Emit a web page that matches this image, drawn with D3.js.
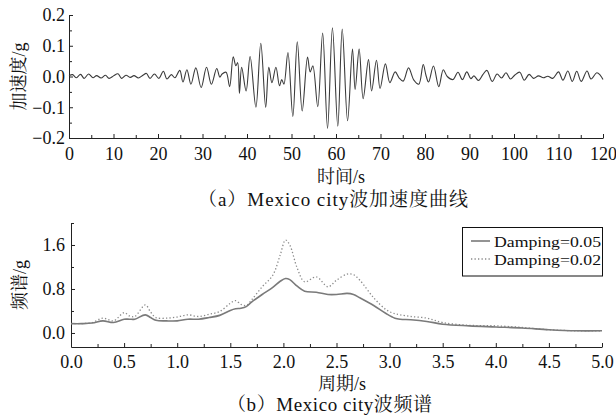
<!DOCTYPE html>
<html><head><meta charset="utf-8">
<script src="https://cdn.jsdelivr.net/npm/d3@7/dist/d3.min.js"></script>
<style>
body{margin:0;background:#fff;}
svg{display:block;font-family:"Liberation Serif","Times New Roman","Noto Serif CJK SC","Noto Sans CJK SC",serif;}
</style></head>
<body><svg id="c" width="616" height="418"></svg>
<script>
// ---------- Data: (a) acceleration time history ----------
const timeS = [0,0.8,1.6,2.6,3.4,4.4,5.4,6.2,7.2,8.2,9.0,10.0,11.0,11.8,12.8,13.8,14.6,15.6,16.6,17.4,18.2,19.2,20.2,21.2,22.0,23.0,23.8,24.9,25.6,26.5,27.4,28.5,29.7,30.9,32.0,33.2,33.9,34.4,35.3,36.1,36.9,37.5,37.9,38.3,38.8,39.8,40.7,42.0,43.1,44.2,44.9,45.6,46.5,47.3,47.8,48.3,49.2,50.3,51.3,52.4,53.6,54.2,54.8,55.9,57.0,58.1,59.2,60.4,61.4,62.6,63.7,64.3,65.2,66.1,67.3,68.0,69.1,69.9,71.1,72.1,73.3,74.2,75.1,76.3,77.5,78.6,79.6,80.2,80.8,81.9,83.1,84.1,85.0,86.3,87.4,88.4,89.4,90.3,91.0,92.0,93.0,93.9,95.1,96.2,97.2,98.2,99.2,100.2,101.3,102.3,103.4,104.4,105.5,106.6,107.6,108.7,110.0,111.0,112.1,113.1,114.1,115.1,116.4,117.3,118.6,119.4,120.0];
const accelG = [0.002,0.006,-0.004,0.007,-0.006,0.008,-0.004,0.003,-0.005,0.004,-0.006,0.002,0.009,-0.006,0.004,-0.003,0.003,-0.005,0.004,0.010,-0.006,0.008,-0.006,0.017,-0.008,0.006,-0.004,0.020,-0.018,0.022,-0.025,0.028,-0.036,0.030,-0.025,0.026,-0.002,0.008,0.014,-0.033,0.064,0.035,0.045,-0.055,0.030,-0.047,0.065,-0.100,0.108,-0.100,0.030,-0.020,0.030,-0.030,-0.010,-0.025,0.078,-0.130,0.113,-0.112,0.063,0.015,0.035,-0.098,0.141,-0.169,0.158,-0.162,0.154,-0.144,0.089,-0.042,0.089,-0.072,0.055,-0.047,0.053,-0.039,0.041,-0.020,0.015,-0.005,-0.015,0.028,-0.012,-0.025,0.039,0.005,-0.018,0.034,-0.033,0.022,0.000,-0.010,0.014,-0.010,0.015,-0.007,0.002,-0.013,0.006,0.020,-0.016,0.008,-0.005,0.012,-0.008,0.005,0.014,-0.012,0.007,-0.006,0.002,-0.004,0.001,-0.006,0.015,-0.012,0.018,-0.016,0.017,-0.016,0.018,-0.008,0.012,0.004,-0.010];
const accTicksX = [0,10,20,30,40,50,60,70,80,90,100,110,120];
const accTicksY = [-0.2,-0.1,0.0,0.1,0.2];

// ---------- Data: (b) spectrum ----------
const periodS = [0,0.1,0.2,0.3,0.4,0.5,0.55,0.6,0.7,0.75,0.8,0.9,1.0,1.1,1.2,1.3,1.4,1.5,1.55,1.6,1.65,1.7,1.8,1.9,1.97,2.02,2.06,2.13,2.2,2.31,2.42,2.5,2.6,2.66,2.72,2.85,2.97,3.05,3.1,3.2,3.35,3.5,3.75,4.0,4.25,4.5,4.75,5.0];
const damping005 = [0.17,0.17,0.18,0.22,0.19,0.25,0.25,0.25,0.33,0.28,0.23,0.22,0.22,0.25,0.25,0.28,0.32,0.41,0.44,0.45,0.48,0.56,0.70,0.83,0.94,0.99,0.97,0.85,0.76,0.74,0.70,0.70,0.72,0.70,0.64,0.50,0.35,0.27,0.25,0.24,0.21,0.16,0.13,0.11,0.09,0.06,0.04,0.04];
const damping002 = [0.17,0.17,0.19,0.27,0.22,0.37,0.31,0.30,0.51,0.38,0.28,0.27,0.29,0.33,0.30,0.34,0.39,0.54,0.59,0.52,0.50,0.60,0.84,1.05,1.42,1.69,1.60,1.18,0.93,1.02,0.84,0.96,1.07,1.06,0.96,0.64,0.42,0.35,0.33,0.30,0.27,0.19,0.14,0.13,0.10,0.06,0.04,0.04];
const specTicksX = [0,0.5,1.0,1.5,2.0,2.5,3.0,3.5,4.0,4.5,5.0];
const specTicksY = [0.0,0.8,1.6];
const seriesNames = ["Damping=0.05","Damping=0.02"];

const svg = d3.select("#c");
const axisColor = "#222";

function styleAxis(g){
  g.selectAll("path.domain").attr("stroke",axisColor).attr("stroke-width",1);
  g.selectAll(".tick line").attr("stroke",axisColor).attr("stroke-width",1);
  g.selectAll(".tick text").attr("fill","#111").style("font-size","18px")
    .style("font-family","'Liberation Serif','Times New Roman',serif");
}

// ===== Chart (a) =====
const xA = d3.scaleLinear().domain([0,120]).range([69,603]);
const yA = d3.scaleLinear().domain([-0.2,0.2]).range([138,15]);
const fmt1 = d3.format(".1f");

let g = svg.append("g").attr("transform",`translate(0,${yA(-0.2)})`)
  .call(d3.axisBottom(xA).tickValues(d3.range(5,120,10)).tickSize(-3).tickSizeOuter(0).tickFormat(""));
g.select("path.domain").remove(); styleAxis(g);
g = svg.append("g").attr("transform",`translate(0,${yA(-0.2)})`)
  .call(d3.axisBottom(xA).tickValues(accTicksX).tickSize(-4).tickSizeOuter(0).tickPadding(9).tickFormat(d3.format("d")));
styleAxis(g);
g = svg.append("g").attr("transform",`translate(${xA(0)},0)`)
  .call(d3.axisLeft(yA).tickValues([-0.15,-0.05,0.05,0.15]).tickSize(-3).tickSizeOuter(0).tickFormat(""));
g.select("path.domain").remove(); styleAxis(g);
g = svg.append("g").attr("transform",`translate(${xA(0)},0)`)
  .call(d3.axisLeft(yA).tickValues(accTicksY).tickSize(-4).tickSizeOuter(0).tickPadding(4).tickFormat(fmt1));
styleAxis(g);

const lineA = d3.line().x((d,i)=>xA(timeS[i])).y(d=>yA(d)).curve(d3.curveCatmullRom.alpha(0.5));
svg.append("path").datum(accelG).attr("d",lineA).attr("fill","none")
  .attr("stroke","#3a3a3a").attr("stroke-width",1.1);

svg.append("text").attr("transform",`translate(25,${(yA(0.2)+yA(-0.2))/2}) rotate(-90)`)
  .attr("text-anchor","middle").style("font-size","18px").attr("fill","#111").text("加速度/g");
svg.append("text").attr("x",341).attr("y",183).attr("text-anchor","middle")
  .style("font-size","18px").attr("fill","#111").text("时间/s");
svg.append("text").attr("x",198).attr("y",206)
  .style("font-size","19px").attr("fill","#111")
  .attr("textLength",270).attr("lengthAdjust","spacing").text("（a）Mexico city波加速度曲线");

// ===== Chart (b) =====
const xB = d3.scaleLinear().domain([0,5]).range([71,602]);
const yB = d3.scaleLinear().domain([-0.255,2.0]).range([347,223]);

g = svg.append("g").attr("transform",`translate(0,${yB(-0.255)})`)
  .call(d3.axisBottom(xB).tickValues(d3.range(0.25,5,0.5)).tickSize(-3).tickSizeOuter(0).tickFormat(""));
g.select("path.domain").remove(); styleAxis(g);
g = svg.append("g").attr("transform",`translate(0,${yB(-0.255)})`)
  .call(d3.axisBottom(xB).tickValues(specTicksX).tickSize(-4).tickSizeOuter(0).tickPadding(8).tickFormat(fmt1));
styleAxis(g);
g = svg.append("g").attr("transform",`translate(${xB(0)},0)`)
  .call(d3.axisLeft(yB).tickValues([0.4,1.2,2.0]).tickSize(-3).tickSizeOuter(0).tickFormat(""));
g.select("path.domain").remove(); styleAxis(g);
g = svg.append("g").attr("transform",`translate(${xB(0)},0)`)
  .call(d3.axisLeft(yB).tickValues(specTicksY).tickSize(-4).tickSizeOuter(0).tickPadding(6).tickFormat(fmt1));
styleAxis(g);

const lineB = d3.line().x((d,i)=>xB(periodS[i])).y(d=>yB(d)).curve(d3.curveCatmullRom.alpha(0.5));
svg.append("path").datum(damping002).attr("d",lineB).attr("fill","none")
  .attr("stroke","#8a8a8a").attr("stroke-width",1.3).attr("stroke-dasharray","1.3,2.2");
svg.append("path").datum(damping005).attr("d",lineB).attr("fill","none")
  .attr("stroke","#7a7a7a").attr("stroke-width",1.6);

svg.append("text").attr("transform",`translate(26,285) rotate(-90)`)
  .attr("text-anchor","middle").style("font-size","18px").attr("fill","#111").text("频谱/g");
svg.append("text").attr("x",342).attr("y",390).attr("text-anchor","middle")
  .style("font-size","18px").attr("fill","#111").text("周期/s");
svg.append("text").attr("x",227).attr("y",411)
  .style("font-size","19px").attr("fill","#111")
  .attr("textLength",205).attr("lengthAdjust","spacing").text("（b）Mexico city波频谱");

// legend
const lg = svg.append("g");
lg.append("rect").attr("x",462.5).attr("y",227.5).attr("width",140).attr("height",48.5)
  .attr("fill","#fff").attr("stroke","#111").attr("stroke-width",1);
const legStyles = [{dash:null,w:1.6,c:"#7a7a7a"},{dash:"1.3,2.2",w:1.3,c:"#8a8a8a"}];
seriesNames.forEach((n,i)=>{
  const yy = 241 + i*18;
  const ln = lg.append("line").attr("x1",471).attr("x2",490).attr("y1",yy).attr("y2",yy)
    .attr("stroke",legStyles[i].c).attr("stroke-width",legStyles[i].w);
  if(legStyles[i].dash) ln.attr("stroke-dasharray",legStyles[i].dash);
  lg.append("text").attr("x",494).attr("y",yy+5.5).style("font-size","15.5px").attr("fill","#111")
    .attr("textLength",107).attr("lengthAdjust","spacingAndGlyphs").text(n);
});
</script></body></html>
